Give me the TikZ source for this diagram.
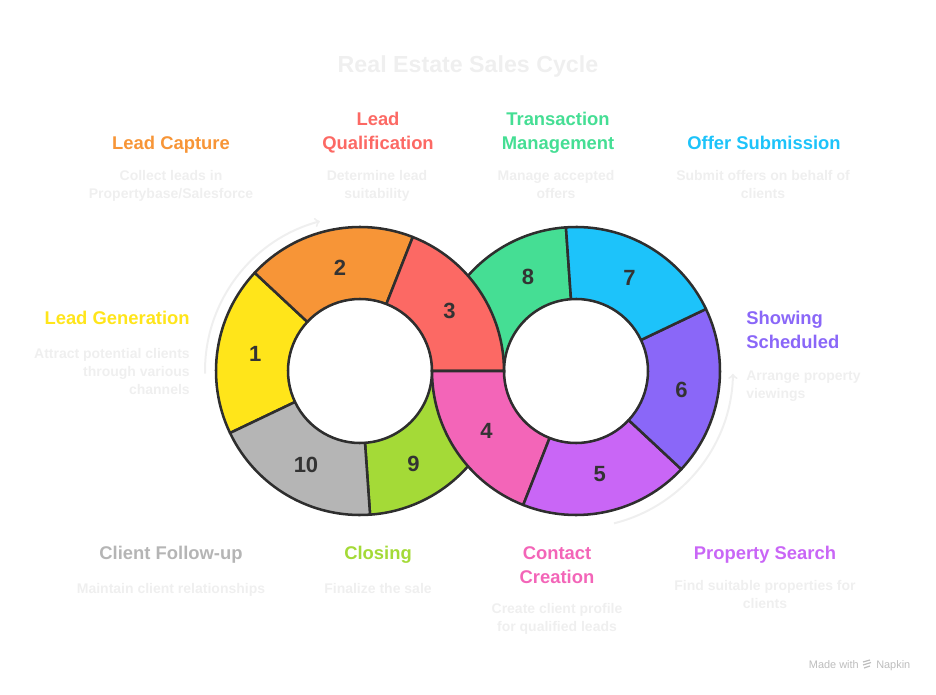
\documentclass[tikz,border=0pt]{standalone}
\usepackage{fontspec}
\setmainfont{Liberation Sans}
\usetikzlibrary{calc}

\definecolor{ringline}{HTML}{2E2E2E}
\definecolor{numtext}{HTML}{333333}
\definecolor{faint}{HTML}{EFEFEF}
\definecolor{brand}{HTML}{BDBDBD}
\definecolor{cYellow}{HTML}{FFE51A}
\definecolor{cOrange}{HTML}{F79537}
\definecolor{cRed}{HTML}{FC6964}
\definecolor{cPink}{HTML}{F365B8}
\definecolor{cViolet}{HTML}{C966F6}
\definecolor{cPurple}{HTML}{8A67F8}
\definecolor{cCyan}{HTML}{1DC3FA}
\definecolor{cGreen}{HTML}{45DE94}
\definecolor{cLime}{HTML}{A4DA37}
\definecolor{cGray}{HTML}{B5B5B5}

% one piece of a ring: centre, start angle, end angle, colour
\newcommand{\ringseg}[4]{%
  \filldraw[segment, fill=#4] ($(#1)+(#2:144)$) arc[start angle=#2, end angle=#3, radius=144]
    -- ($(#1)+(#3:72)$) arc[start angle=#3, end angle=#2, radius=72] -- cycle;}

\begin{document}
\begin{tikzpicture}[x=0.75pt, y=0.75pt,
    segment/.style={draw=ringline, line width=1.9pt, line join=round},
    num/.style={font=\bfseries\fontsize{16.5}{18}\selectfont, text=numtext},
    steptitle/.style={font=\bfseries\fontsize{13.8}{18}\selectfont, align=center, anchor=base, inner sep=0pt},
    stepdesc/.style={font=\bfseries\fontsize{10.5}{13.5}\selectfont, text=faint, align=center, anchor=base, inner sep=0pt},
    cyclearrow/.style={draw=faint, line width=1.5pt, ->}]
  \useasboundingbox (0,0) rectangle (936,694);

  % Centros de los anillos
  \coordinate (L) at (360,323);
  \coordinate (R) at (576,323);

  % Titulo
  \node[font=\bfseries\fontsize{17.4}{20}\selectfont, text=faint, anchor=base] (title) at (468,621) {Real Estate Sales Cycle};

  % Piezas de abajo (quedan tapadas en el cruce)
  \ringseg{R}{94}{180}{cGreen}
  \ringseg{L}{274}{360}{cLime}

  % Anillo izquierdo
  \ringseg{L}{137}{205.5}{cYellow}
  \ringseg{L}{68.5}{137}{cOrange}
  \ringseg{L}{0}{68.5}{cRed}
  \ringseg{L}{205.5}{274}{cGray}

  % Anillo derecho
  \ringseg{R}{180}{248.5}{cPink}
  \ringseg{R}{248.5}{317}{cViolet}
  \ringseg{R}{317}{385.5}{cPurple}
  \ringseg{R}{25.5}{94}{cCyan}

  % Numeros
  \node[num] (n1) at ($(L)+(171:106)$) {1};
  \node[num] (n2) at ($(L)+(101:105)$) {2};
  \node[num] (n3) at ($(L)+(34:108)$) {3};
  \node[num] (n4) at ($(R)+(214:108)$) {4};
  \node[num] (n5) at ($(R)+(283:106)$) {5};
  \node[num] (n6) at ($(R)+(350:107)$) {6};
  \node[num] (n7) at ($(R)+(60:107)$) {7};
  \node[num] (n8) at ($(R)+(117:106)$) {8};
  \node[num] (n9) at ($(L)+(300:107)$) {9};
  \node[num] (n10) at ($(L)+(240:108)$) {10};

  % Flechas del ciclo
  \draw[cyclearrow] ($(L)+(181:155)$) arc[start angle=181, end angle=105, radius=155];
  \draw[cyclearrow] ($(R)+(-76:157)$) arc[start angle=-76, end angle=-1, radius=157];

  % Textos de arriba
  \node[steptitle, text=cOrange] (capT) at (171,544) {Lead Capture};
  \node[stepdesc] (capD) at (171,495) {Collect leads in\\Propertybase/Salesforce};
  \node[steptitle, text=cRed] (qualT) at (378,544) {Lead\\Qualification};
  \node[stepdesc] (qualD) at (377,495) {Determine lead\\suitability};
  \node[steptitle, text=cGreen] (transT) at (558,544) {Transaction\\Management};
  \node[stepdesc] (transD) at (556,495) {Manage accepted\\offers};
  \node[steptitle, text=cCyan] (offerT) at (764,544) {Offer Submission};
  \node[stepdesc] (offerD) at (763,495) {Submit offers on behalf of\\clients};

  % Textos de los lados
  \node[steptitle, text=cYellow, anchor=base east, align=right] (genT) at (190,369) {Lead Generation};
  \node[stepdesc, anchor=base east, align=right] (genD) at (190,300) {Attract potential clients\\through various\\channels};
  \node[steptitle, text=cPurple, anchor=base west, align=left] (showT) at (746,346) {Showing\\Scheduled};
  \node[stepdesc, anchor=base west, align=left] (showD) at (746,296) {Arrange property\\viewings};

  % Textos de abajo
  \node[steptitle, text=cGray] (followT) at (171,135) {Client Follow-up};
  \node[stepdesc] (followD) at (171,101) {Maintain client relationships};
  \node[steptitle, text=cLime] (closeT) at (378,135) {Closing};
  \node[stepdesc] (closeD) at (378,101) {Finalize the sale};
  \node[steptitle, text=cPink] (contactT) at (557,111) {Contact\\Creation};
  \node[stepdesc] (contactD) at (557,63) {Create client profile\\for qualified leads};
  \node[steptitle, text=cViolet] (propT) at (765,135) {Property Search};
  \node[stepdesc] (propD) at (765,86) {Find suitable properties for\\clients};

  % Marca
  \node[font=\fontsize{8.2}{10}\selectfont, text=brand, anchor=base east, inner sep=0pt] (made) at (859,26) {Made with};
  \node[font=\fontsize{8.2}{10}\selectfont, text=brand, anchor=base west, inner sep=0pt] (napkin) at (876,26) {Napkin};
  \draw[brand, line width=0.9pt] (863,32) -- (870,34) (863,29) -- (871,31.5) (864,26) -- (870,28);
\end{tikzpicture}
\end{document}
